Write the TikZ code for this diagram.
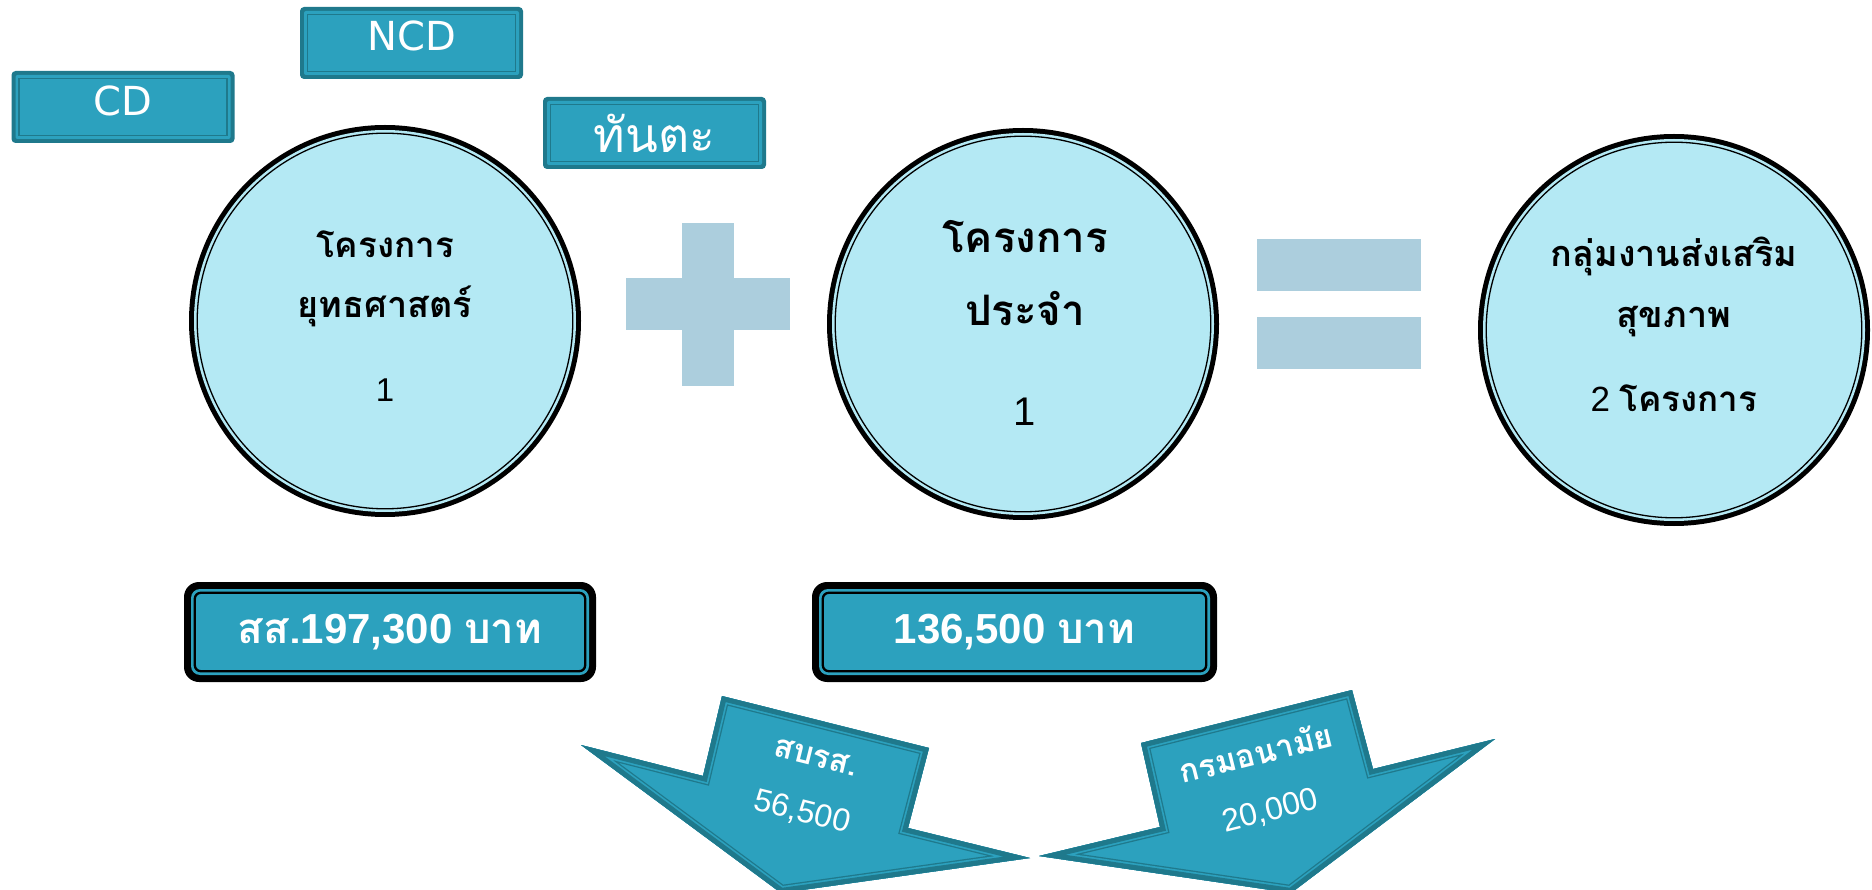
\documentclass[tikz,border=0pt]{standalone}
\usepackage{fontspec}
\setmainfont{Liberation Sans}
\newfontfamily\thai[Script=Thai]{Loma}
\newfontfamily\dejavu{DejaVu Sans}
\usetikzlibrary{calc}
\definecolor{boxteal}{RGB}{44,161,190}
\definecolor{dteal}{RGB}{31,121,140}
\definecolor{lcyan}{RGB}{180,233,244}
\definecolor{opblue}{RGB}{172,206,221}
\begin{document}
\begin{tikzpicture}[x=1pt,y=-1pt,line join=miter,
  tagbox/.style={rectangle, rounded corners=4, minimum width=223, minimum height=72, inner sep=0,
    fill=dteal, text=white,
    path picture={
      \fill[boxteal, rounded corners=2] ($(path picture bounding box.south west)+(4,-4)$) rectangle ($(path picture bounding box.north east)+(-4,4)$);
      \draw[dteal, line width=1.4, sharp corners] ($(path picture bounding box.south west)+(7.4,-7.4)$) rectangle ($(path picture bounding box.north east)+(-7.4,7.4)$);}},
  moneybox/.style={rectangle, rounded corners=15, minimum height=100, inner sep=0,
    fill=black, text=white,
    path picture={
      \fill[boxteal, rounded corners=9] ($(path picture bounding box.south west)+(7,-7)$) rectangle ($(path picture bounding box.north east)+(-7,7)$);
      \draw[black, line width=2.3, rounded corners=6] ($(path picture bounding box.south west)+(10.8,-10.8)$) rectangle ($(path picture bounding box.north east)+(-10.8,10.8)$);}},
  circ/.style={circle, minimum size=392, inner sep=0, fill=black,
    path picture={
      \fill[lcyan] (path picture bounding box.center) circle[radius=191pt];
      \draw[black, line width=1.3] (path picture bounding box.center) circle[radius=187.8pt];}},
  ctext/.style={anchor=base, inner sep=0, text=black},
  atext/.style={inner sep=0, text=white, align=center, font=\fontsize{32}{57}\selectfont},
  opbar/.style={fill=opblue}
]
\clip (0,0) rectangle (1872,890);
\fill[white] (0,0) rectangle (1872,890);

% top tag boxes
\node[tagbox] (cd) at (123,107) {\raisebox{6pt}[\height][\depth]{\dejavu\fontsize{40}{48}\selectfont CD}};
\node[tagbox] (ncd) at (411.5,43) {\raisebox{7pt}[\height][\depth]{\dejavu\fontsize{40}{48}\selectfont NCD}};
\node[tagbox] (dent) at (654.5,133) {\thai\fontsize{48}{56}\selectfont ทันตะ};

% circles
\node[circ] (c1) at (385,321) {};
\node[circ] (c2) at (1023,324) {};
\node[circ] (c3) at (1674,330) {};

\node[ctext] (c1a) at (385,258) {\thai\bfseries\fontsize{35}{42}\selectfont โครงการ};
\node[ctext] (c1b) at (385,318) {\thai\bfseries\fontsize{36}{42}\selectfont ยุทธศาสตร์};
\node[ctext] (c1c) at (385,402) {\fontsize{33}{40}\selectfont 1};

\node[ctext] (c2a) at (1025,253) {\thai\bfseries\fontsize{42}{48}\selectfont โครงการ};
\node[ctext] (c2b) at (1025,326) {\thai\bfseries\fontsize{42}{48}\selectfont ประจำ};
\node[ctext] (c2c) at (1025,426) {\fontsize{40}{48}\selectfont 1};

\node[ctext] (c3a) at (1674,267) {\thai\bfseries\fontsize{36}{42}\selectfont กลุ่มงานส่งเสริม};
\node[ctext] (c3b) at (1674,328) {\thai\bfseries\fontsize{36}{42}\selectfont สุขภาพ};
\node[ctext] (c3c) at (1674,412) {\fontsize{35}{42}\selectfont 2 {\thai\bfseries โครงการ}};

% plus
\fill[opbar] (682,223) rectangle (734,386);
\fill[opbar] (626,278) rectangle (790,330);
% equals
\fill[opbar] (1257,239) rectangle (1421,291);
\fill[opbar] (1257,317) rectangle (1421,369);

% money boxes
\node[moneybox, minimum width=412] (m1) at (390,632) {\bfseries\fontsize{42}{48}\selectfont{\thai สส.}197,300 {\thai บาท}};
\node[moneybox, minimum width=405] (m2) at (1014.5,632) {\bfseries\fontsize{42}{48}\selectfont 136,500 {\thai บาท}};

% left arrow
\coordinate (a1) at (722,696);
\coordinate (a2) at (929,748);
\coordinate (a3) at (908,828);
\coordinate (a4) at (1030,858);
\coordinate (a5) at (781,893);
\coordinate (a6) at (581,745);
\coordinate (a7) at (703,776);
\begin{scope}
  \clip (a1)--(a2)--(a3)--(a4)--(a5)--(a6)--(a7)--cycle;
  \fill[boxteal] (550,680) rectangle (1050,900);
  \draw[dteal, line width=16] (a1)--(a2)--(a3)--(a4)--(a5)--(a6)--(a7)--cycle;
  \draw[boxteal, line width=13.4] (a1)--(a2)--(a3)--(a4)--(a5)--(a6)--(a7)--cycle;
  \draw[dteal, line width=10] (a1)--(a2)--(a3)--(a4)--(a5)--(a6)--(a7)--cycle;
\end{scope}
% right arrow
\coordinate (b1) at (1141,743);
\coordinate (b2) at (1352,690);
\coordinate (b3) at (1373,769);
\coordinate (b4) at (1495,739);
\coordinate (b5) at (1291,893);
\coordinate (b6) at (1039,856);
\coordinate (b7) at (1160,827);
\begin{scope}
  \clip (b1)--(b2)--(b3)--(b4)--(b5)--(b6)--(b7)--cycle;
  \fill[boxteal] (1020,680) rectangle (1510,900);
  \draw[dteal, line width=16] (b1)--(b2)--(b3)--(b4)--(b5)--(b6)--(b7)--cycle;
  \draw[boxteal, line width=13.4] (b1)--(b2)--(b3)--(b4)--(b5)--(b6)--(b7)--cycle;
  \draw[dteal, line width=10] (b1)--(b2)--(b3)--(b4)--(b5)--(b6)--(b7)--cycle;
\end{scope}

\node[atext, rotate=-14] (sl) at (808.5,786.5) {{\thai\bfseries สบรส.}\\56,500};
\node[atext, rotate=14] (sr) at (1263,782) {{\thai\bfseries กรมอนามัย}\\20,000};
\end{tikzpicture}
\end{document}
